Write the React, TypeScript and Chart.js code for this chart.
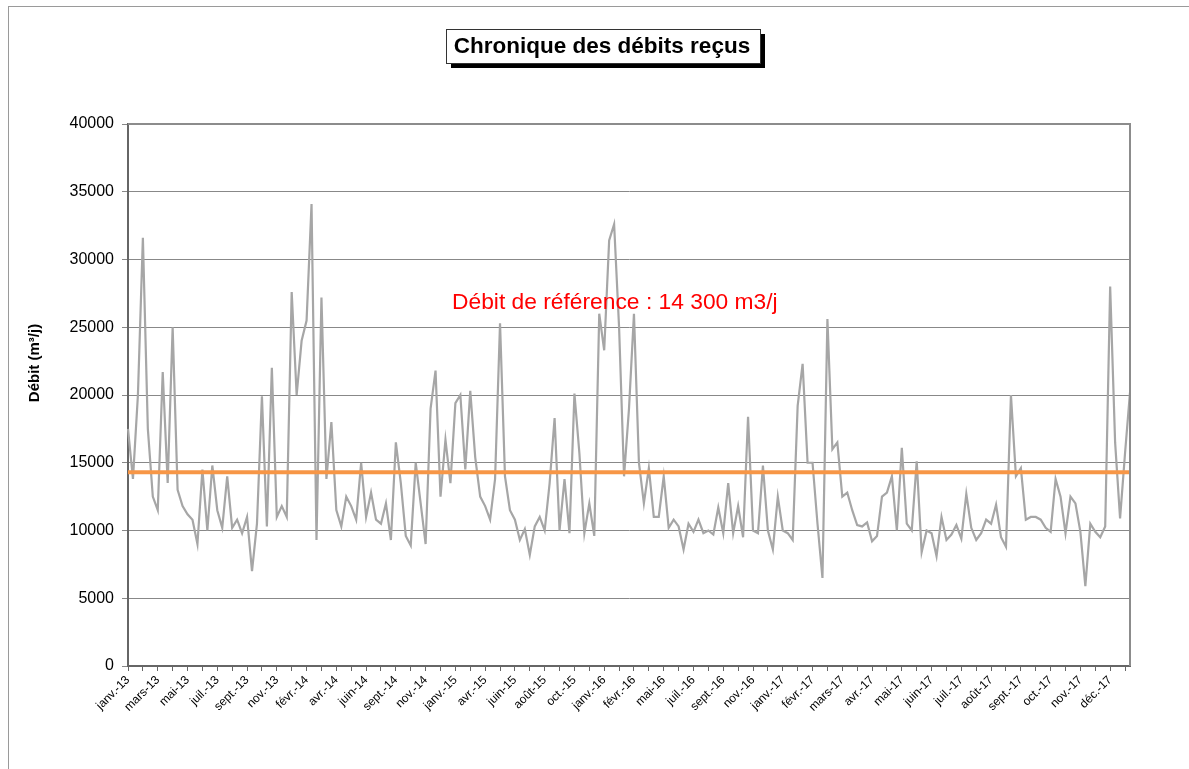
import React, { useEffect, useRef } from "react";
import { Chart, registerables } from "chart.js";

Chart.register(...registerables);

const chartTitle = "Chronique des débits reçus";
const yAxisTitle = "Débit (m³/j)";
const referenceText = "Débit de référence : 14 300 m3/j";
const referenceFlow = 14300;

const tickLabels = [
  "janv.-13", "mars-13", "mai-13", "juil.-13", "sept.-13", "nov.-13",
  "févr.-14", "avr.-14", "juin-14", "sept.-14", "nov.-14",
  "janv.-15", "avr.-15", "juin-15", "août-15", "oct.-15",
  "janv.-16", "févr.-16", "mai-16", "juil.-16", "sept.-16", "nov.-16",
  "janv.-17", "févr.-17", "mars-17", "avr.-17", "mai-17", "juin-17",
  "juil.-17", "août-17", "sept.-17", "oct.-17", "nov.-17", "déc.-17",
];

const yTicks = [0, 5000, 10000, 15000, 20000, 25000, 30000, 35000, 40000];

const debits = [
  17500, 13800, 20000, 31600, 17500, 12500, 11500, 21700, 13500, 25000,
  13000, 11800, 11200, 10800, 9000, 14500, 10000, 14800, 11500, 10200,
  14000, 10200, 10800, 9800, 11000, 7000, 10500, 19900, 10300, 22000,
  11000, 11800, 11000, 27600, 20000, 24000, 25500, 34100, 9300, 27200,
  13800, 18000, 11500, 10300, 12500, 11800, 10800, 15000, 11000, 12800,
  10800, 10500, 12000, 9300, 16500, 13500, 9600, 8900, 15000, 12000,
  9000, 19000, 21800, 12500, 16700, 13500, 19400, 20000, 14500, 20300,
  15400, 12500, 11800, 10800, 13800, 25300, 14000, 11500, 10800, 9300,
  10100, 8200, 10300, 11000, 10000, 13500, 18300, 10000, 13800, 9800,
  20100, 15700, 9800, 12000, 9600, 26000, 23300, 31400, 32600, 25000,
  14000, 19000, 26000, 15000, 12000, 14600, 11000, 11000, 14000, 10200,
  10800, 10300, 8600, 10500, 9900, 10800, 9800, 10000, 9700, 11700,
  9800, 13500, 9800, 11800, 9500, 18400, 10000, 9800, 14800, 10000,
  8600, 12500, 10000, 9800, 9300, 19200, 22300, 15000, 15000, 10500,
  6500, 25600, 16000, 16500, 12500, 12800, 11500, 10400, 10300, 10600,
  9200, 9600, 12500, 12800, 14000, 10000, 16100, 10500, 10000, 15100,
  8400, 10000, 9800, 8100, 11000, 9300, 9700, 10400, 9400, 12700,
  10200, 9300, 9800, 10800, 10500, 11900, 9500, 8800, 20000, 14000,
  14600, 10800, 11000, 11000, 10800, 10200, 9900, 13800, 12500, 9800,
  12500, 12000, 9900, 5900, 10500, 9900, 9500, 10300, 28000, 16500,
  10900, 15700, 20200,
];

const POINTS_PER_TICK = 3;
const POINTS_PER_LABEL = 6;

const categories = debits.map((_, i) =>
  i % POINTS_PER_LABEL === 0 ? tickLabels[i / POINTS_PER_LABEL] ?? "" : ""
);
const referenceSeries = debits.map(() => referenceFlow);

const FONT = "'Liberation Sans', Arial, sans-serif";

const decorPlugin = {
  id: "decor",
  beforeDraw(chart: any) {
    const { ctx, width, height } = chart;
    ctx.save();
    ctx.fillStyle = "#ffffff";
    ctx.fillRect(0, 0, width, height);
    ctx.strokeStyle = "#9a9a9a";
    ctx.lineWidth = 1;
    ctx.strokeRect(8.5, 6.5, width, height);
    ctx.restore();
  },
  afterDraw(chart: any) {
    const { ctx, chartArea } = chart;
    const yScale = chart.scales.y;
    ctx.save();
    // plot border
    ctx.strokeStyle = "#8c8c8c";
    ctx.lineWidth = 2;
    ctx.beginPath();
    ctx.moveTo(chartArea.left, chartArea.top);
    ctx.lineTo(chartArea.right, chartArea.top);
    ctx.lineTo(chartArea.right, chartArea.bottom);
    ctx.stroke();

    // y axis title
    ctx.save();
    ctx.translate(35, 363);
    ctx.rotate(-Math.PI / 2);
    ctx.fillStyle = "#000000";
    ctx.font = `bold 15px ${FONT}`;
    ctx.textAlign = "center";
    ctx.textBaseline = "middle";
    ctx.fillText(yAxisTitle, 0, 0);
    ctx.restore();

    // title box with shadow
    const bx = 446, by = 29, bw = 314, bh = 34;
    ctx.fillStyle = "#000000";
    ctx.fillRect(bx + 5, by + 5, bw, bh);
    ctx.fillStyle = "#ffffff";
    ctx.fillRect(bx, by, bw, bh);
    ctx.strokeStyle = "#333333";
    ctx.lineWidth = 1;
    ctx.strokeRect(bx + 0.5, by + 0.5, bw, bh);
    ctx.fillStyle = "#000000";
    ctx.font = `bold 22.5px ${FONT}`;
    ctx.textAlign = "center";
    ctx.textBaseline = "middle";
    ctx.fillText(chartTitle, bx + bw / 2 - 1, by + bh / 2 + 1);

    // reference annotation
    ctx.fillStyle = "#ff0000";
    ctx.font = `22.8px ${FONT}`;
    ctx.textAlign = "left";
    ctx.textBaseline = "middle";
    ctx.fillText(referenceText, chartArea.left + 324, yScale.getPixelForValue(26800));
    ctx.restore();
  },
};

export default function App() {
  const canvasRef = useRef<HTMLCanvasElement | null>(null);

  useEffect(() => {
    const canvas = canvasRef.current;
    if (!canvas) return;
    const chart = new Chart(canvas, {
      type: "line",
      data: {
        labels: categories,
        datasets: [
          {
            label: "Débit de référence",
            data: referenceSeries,
            borderColor: "#f79646",
            borderWidth: 4,
            pointRadius: 0,
            tension: 0,
            order: 0,
          },
          {
            label: "Débit",
            data: debits,
            borderColor: "#a6a6a6",
            borderWidth: 2.2,
            pointRadius: 0,
            tension: 0,
            order: 1,
          },
        ],
      },
      options: {
        responsive: false,
        animation: false,
        events: [],
        layout: { padding: { left: 20, right: 59, top: 124, bottom: 0 } },
        plugins: {
          legend: { display: false },
          title: { display: false },
          tooltip: { enabled: false },
        },
        scales: {
          x: {
            type: "category",
            offset: false,
            afterFit: (scale: any) => {
              scale.height = 103;
            },
            grid: {
              drawOnChartArea: false,
              drawTicks: true,
              tickLength: 5,
              color: "#666666",
            },
            border: { display: true, color: "#666666", width: 2 },
            ticks: {
              autoSkip: false,
              minRotation: 45,
              maxRotation: 45,
              padding: 2,
              color: "#000000",
              font: { family: FONT, size: 12 },
              callback: (_v: any, index: number) => {
                if (index % POINTS_PER_LABEL === 0) return categories[index];
                if (index % POINTS_PER_TICK === 0) return "";
                return null;
              },
            },
          },
          y: {
            min: 0,
            max: 40000,
            afterFit: (scale: any) => {
              scale.width = 108;
            },
            afterBuildTicks: (scale: any) => {
              scale.ticks = yTicks.map((v) => ({ value: v }));
            },
            grid: {
              color: "#888888",
              lineWidth: 1,
              tickLength: 6,
            },
            border: { display: true, color: "#666666", width: 2 },
            ticks: {
              padding: 8,
              color: "#000000",
              font: { family: FONT, size: 16 },
              callback: (v: any) => String(v),
            },
          },
        },
      },
      plugins: [decorPlugin],
    });
    return () => chart.destroy();
  }, []);

  return (
    <div style={{ position: "fixed", left: 0, top: 0, width: 1189, height: 769, background: "#fff" }}>
      <canvas ref={canvasRef} width={1189} height={769} style={{ display: "block" }} />
    </div>
  );
}
